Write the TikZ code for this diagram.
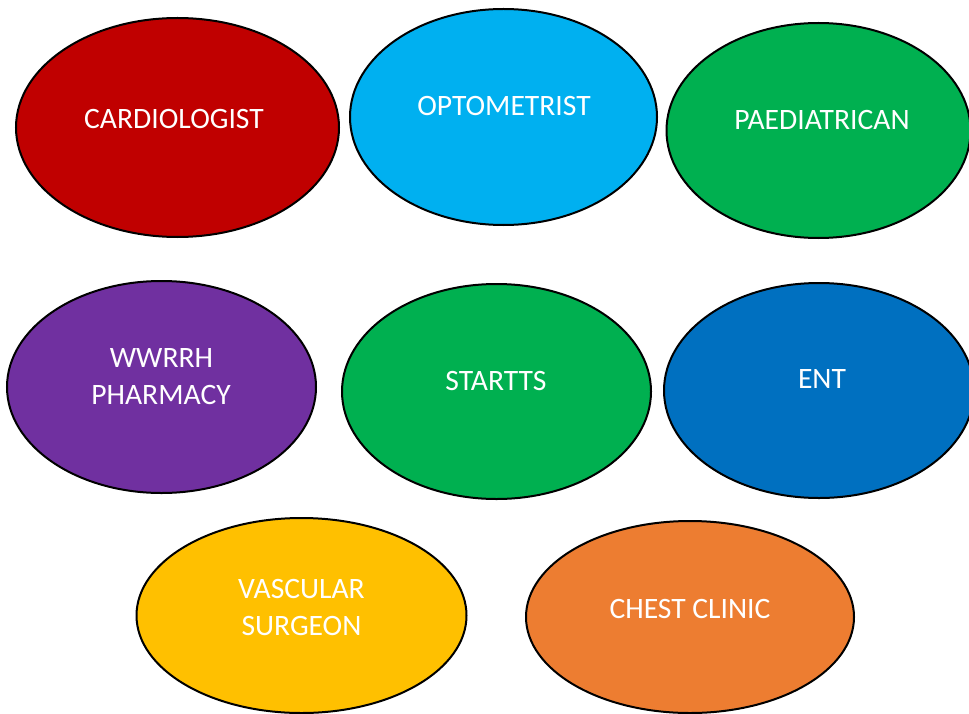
\documentclass[tikz,border=0pt]{standalone}
\usepackage{fontspec}
\setmainfont{Carlito}
\usetikzlibrary{shapes.geometric}
\definecolor{cRed}{HTML}{C00000}
\definecolor{cSky}{HTML}{00B0F0}
\definecolor{cGreen}{HTML}{00B050}
\definecolor{cPurple}{HTML}{7030A0}
\definecolor{cBlue}{HTML}{0070C0}
\definecolor{cGold}{HTML}{FFC000}
\definecolor{cOrange}{HTML}{ED7D31}
\tikzset{
  oval/.style={ellipse, draw=black, line width=1.5pt, inner sep=0pt},
  lbl/.style={anchor=base, text=white, inner sep=0pt, font=\fontsize{22.2}{27}\selectfont}
}
\begin{document}
\begin{tikzpicture}[x=0.75pt,y=-0.75pt]
\useasboundingbox[fill=white] (0,0) rectangle (969,713);
\node[oval, fill=cRed, minimum width={323*0.75pt}, minimum height={219*0.75pt}] (card) at (177.5,127.5) {};
\node[oval, fill=cSky, minimum width={307*0.75pt}, minimum height={216*0.75pt}] (opto) at (503.5,117) {};
\node[oval, fill=cGreen, minimum width={304*0.75pt}, minimum height={215*0.75pt}] (paed) at (818.5,130.5) {};
\node[oval, fill=cPurple, minimum width={309*0.75pt}, minimum height={212*0.75pt}] (wwrrh) at (161.5,387) {};
\node[oval, fill=cGreen, minimum width={309*0.75pt}, minimum height={215*0.75pt}] (startts) at (496.5,391.5) {};
\node[oval, fill=cBlue, minimum width={310*0.75pt}, minimum height={215*0.75pt}] (ent) at (819,390.5) {};
\node[oval, fill=cGold, minimum width={330*0.75pt}, minimum height={195*0.75pt}] (vasc) at (301.5,615.5) {};
\node[oval, fill=cOrange, minimum width={328*0.75pt}, minimum height={192*0.75pt}] (chest) at (690,617) {};

\node[lbl] (cardt) at (174,128) {CARDIOLOGIST};
\node[lbl] (optot) at (504,116) {OPTOMETRIST};
\node[lbl] (paedt) at (822,129) {PAEDIATRICAN};
\node[lbl] (wwrrht1) at (161.5,367) {WWRRH};
\node[lbl] (wwrrht2) at (161,404) {PHARMACY};
\node[lbl] (starttst) at (496,390) {STARTTS};
\node[lbl] (entt) at (822,388) {ENT};
\node[lbl] (vasct1) at (301.5,598) {VASCULAR};
\node[lbl] (vasct2) at (301.5,635) {SURGEON};
\node[lbl] (chestt) at (690,618) {CHEST CLINIC};
\end{tikzpicture}
\end{document}
